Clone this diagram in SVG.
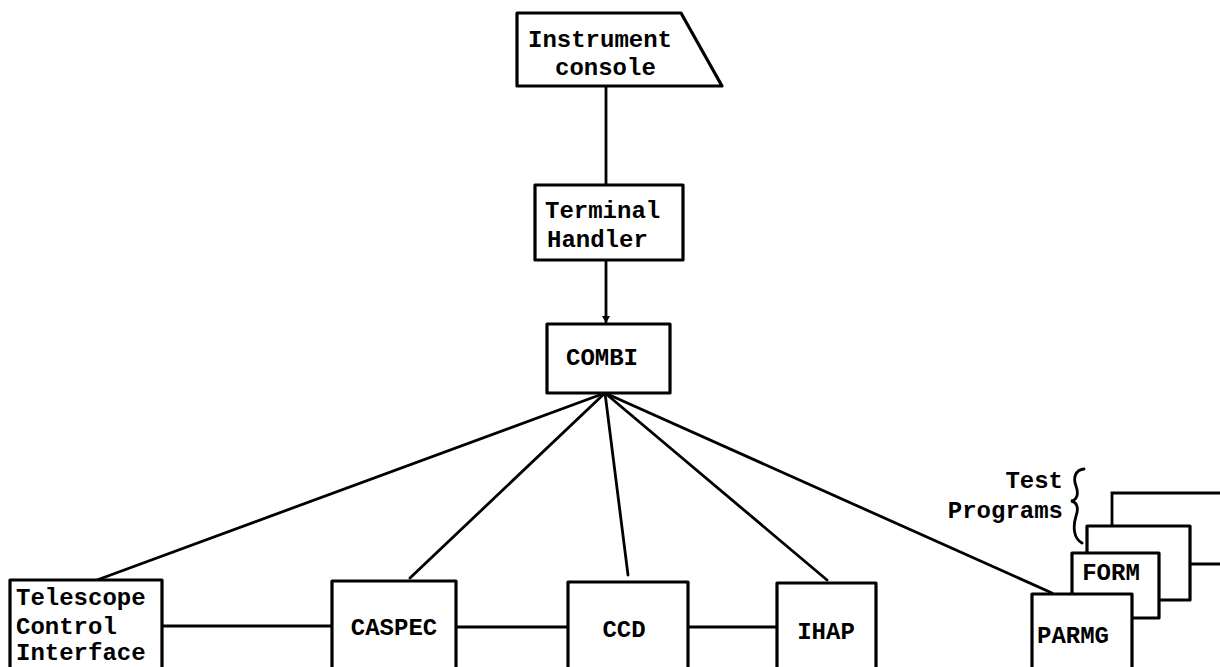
<svg xmlns="http://www.w3.org/2000/svg" width="1220" height="667" viewBox="0 0 1220 667">
<style>
.box{fill:#fff;stroke:#000;stroke-width:3.2;stroke-linejoin:round}
.ln{fill:none;stroke:#000;stroke-width:2.8;stroke-linecap:round}
text{font-family:"Liberation Mono","Courier New",monospace;font-weight:bold;font-size:24px;fill:#000}
.m{text-anchor:middle}
</style>
<defs>
<marker id="arr" markerWidth="8" markerHeight="8" refX="6" refY="4" orient="auto" markerUnits="userSpaceOnUse">
<path d="M0,0 L7,4 L0,8 Z" fill="#000"/>
</marker>
</defs>
<rect width="1220" height="667" fill="#fff"/>
<g id="connectors">
<line class="ln" x1="606" y1="87" x2="606" y2="185"/>
<line class="ln" x1="606" y1="260" x2="606" y2="322" marker-end="url(#arr)"/>
<line class="ln" x1="605" y1="393" x2="97" y2="580"/>
<line class="ln" x1="605" y1="393" x2="410" y2="578"/>
<line class="ln" x1="605" y1="393" x2="628" y2="575"/>
<line class="ln" x1="605" y1="393" x2="827" y2="580"/>
<line class="ln" x1="605" y1="393" x2="1052" y2="593"/>
<line class="ln" x1="162" y1="626" x2="332" y2="626"/>
<line class="ln" x1="456" y1="627" x2="568" y2="627"/>
<line class="ln" x1="688" y1="627" x2="777" y2="627"/>
</g>
<g id="instrument-console">
<polygon class="box" points="517,13 681,13 722,86 517,86"/>
<text x="528" y="47">Instrument</text>
<text x="555" y="75">console</text>
</g>
<g id="terminal-handler">
<rect class="box" x="535" y="185" width="148" height="75"/>
<text x="545" y="218">Terminal</text>
<text x="547" y="247">Handler</text>
</g>
<g id="combi">
<rect class="box" x="547" y="324" width="123" height="69"/>
<text x="566" y="365">COMBI</text>
</g>
<g id="telescope-control-interface">
<rect class="box" x="10" y="580" width="152" height="95"/>
<text x="16" y="605">Telescope</text>
<text x="16" y="634">Control</text>
<text x="16" y="660">Interface</text>
</g>
<g id="caspec">
<rect class="box" x="332" y="581" width="124" height="95"/>
<text class="m" x="394" y="635">CASPEC</text>
</g>
<g id="ccd">
<rect class="box" x="568" y="582" width="120" height="95"/>
<text class="m" x="624" y="637">CCD</text>
</g>
<g id="ihap">
<rect class="box" x="777" y="583" width="99" height="95"/>
<text class="m" x="826" y="639">IHAP</text>
</g>
<g id="test-programs">
<text x="1063" y="488" text-anchor="end">Test</text>
<text x="1063" y="518" text-anchor="end">Programs</text>
<path class="ln" stroke-width="2.4" d="M1084,469 C1075,470 1073,478 1076,486 C1079,494 1077,500 1071,501 C1077,502 1079,508 1076,516 C1073,526 1073,538 1082,543"/>
</g>
<g id="test-program-3">
<path class="ln" stroke-width="3.2" d="M1112,527 L1112,493 L1225,493 M1190,564 L1225,564"/>
</g>
<g id="test-program-2">
<rect class="box" x="1087" y="526" width="103" height="74"/>
</g>
<g id="form">
<rect class="box" x="1072" y="553" width="87" height="65"/>
<text class="m" x="1111" y="580">FORM</text>
</g>
<g id="parmg">
<rect class="box" x="1032" y="594" width="100" height="85"/>
<text x="1037" y="643">PARMG</text>
</g>
</svg>
